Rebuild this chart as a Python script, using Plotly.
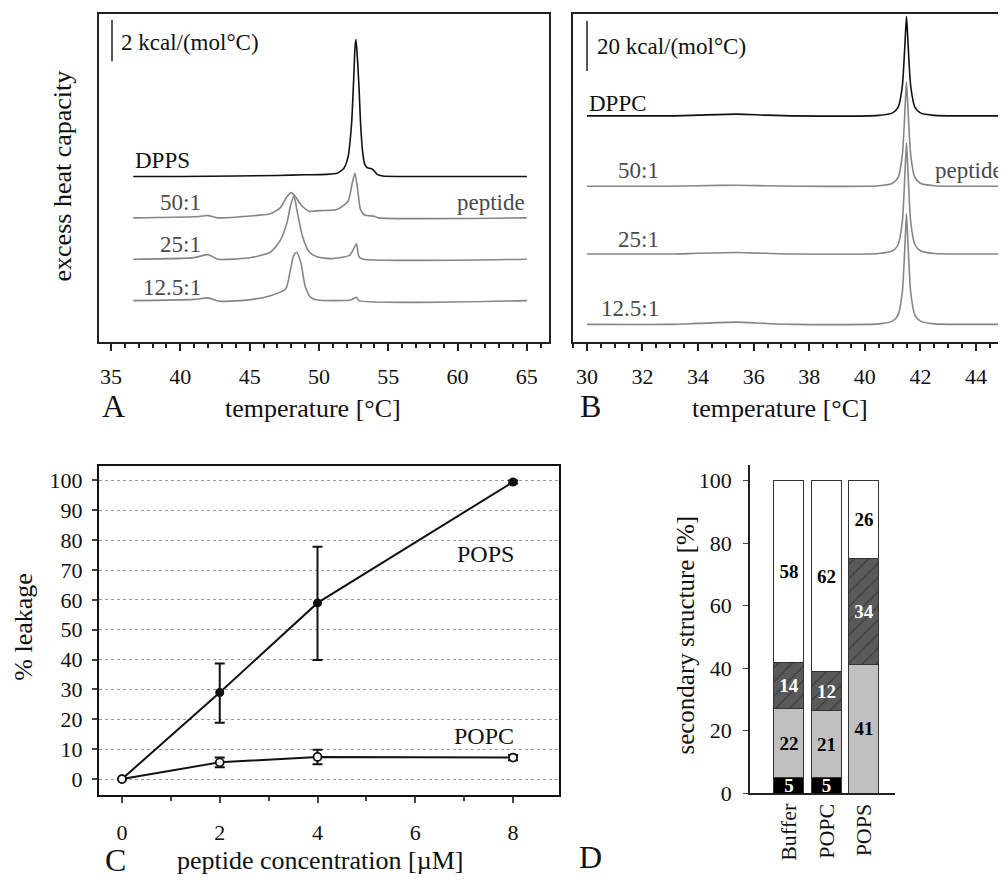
import plotly.graph_objects as go

W, H = 1006, 888
PAD = 8  # page body margin of the html page
FW, FH = W - PAD, H - PAD
SERIF = "Liberation Serif, Times New Roman, serif"
BLACK = "#111111"
GRAY = "#858585"
LABEL_GRAY = "#4a4a4a"

# ---------------- panel A : DSC of DPPS (T in C, excess cp in kcal/(mol C) above baseline)
dpps_t = [36.6, 40, 44, 47, 49, 50.5, 51.3, 51.8, 52.1, 52.35, 52.5, 52.6, 52.67, 52.75, 52.9, 53.0,
          53.15, 53.3, 53.5, 53.75, 53.95, 54.2, 54.6, 56, 65]
dpps_cp = [0, 0, 0.02, 0.05, 0.08, 0.1, 0.15, 0.4, 0.95, 2.5, 4.6, 6.2, 6.62, 6.0, 4.2, 2.6,
           1.2, 0.6, 0.42, 0.38, 0.3, 0.1, 0.02, 0, 0]

a50_t = [36.6, 41.0, 42.0, 42.7, 44.3, 45.5, 46.5, 47.2, 47.7, 48.0, 48.3, 48.7, 49.3, 50.1, 51.3,
         52.1, 52.4, 52.6, 52.8, 53.0, 53.3, 54.0, 54.3, 65]
a50_cp = [0, 0.05, 0.11, 0, 0.05, 0.12, 0.2, 0.48, 1.03, 1.22, 1.03, 0.63, 0.32, 0.35, 0.4,
          0.8, 1.67, 2.17, 1.33, 0.4, 0.14, 0.08, 0, 0]

a25_t = [36.6, 41.0, 42.0, 42.7, 45.1, 46.5, 47.2, 47.7, 47.95, 48.2, 48.4, 48.8, 49.3, 49.9, 50.9,
         52.2, 52.5, 52.7, 52.9, 53.2, 65]
a25_cp = [0, 0.08, 0.22, 0, 0.08, 0.35, 0.9, 1.78, 2.6, 3.05, 2.41, 1.14, 0.35, 0.11, 0.03,
          0.19, 0.5, 0.75, 0.11, 0, 0]

a12_t = [36.6, 41.0, 42.0, 42.8, 45.1, 46.5, 47.6, 47.9, 48.2, 48.4, 48.7, 49.0, 49.4, 49.9, 52.3,
         52.7, 52.9, 65]
a12_cp = [0, 0.06, 0.13, -0.03, 0.05, 0.24, 0.56, 1.35, 2.22, 2.33, 1.83, 0.71, 0.16, 0.03, 0.03,
          0.16, 0, 0]

a_names = ["DPPS", "50:1", "25:1", "12.5:1"]
a_offsets = [8, 6, 4, 2]

# ---------------- panel B : DSC of DPPC
dppc_t = [30, 33, 34, 35.4, 36.4, 37.5, 40.5, 41.0, 41.2, 41.35, 41.45, 41.5, 41.55, 41.65, 41.8,
          42.0, 42.5, 43.5, 45.5]
dppc_cp = [0, 0, 0.3, 0.7, 0.3, 0, 0.2, 1.2, 3.5, 12, 30, 39.6, 30, 12, 3.5, 1.2, 0.2, 0, 0]
b50_cp = [0, 0, 0.2, 0.4, 0.2, 0, 0.2, 1.2, 3.5, 12.5, 31.5, 41.6, 31.5, 12.5, 3.5, 1.2, 0.2, 0, 0]
b25_cp = [0, 0, 0.3, 0.6, 0.3, 0, 0.2, 1.3, 3.8, 13, 33.5, 44.3, 33.5, 13, 3.8, 1.3, 0.2, 0, 0]
b12_cp = [0, 0, 0.4, 0.9, 0.4, 0, 0.2, 1.3, 3.8, 13, 33, 44.0, 33, 13, 3.8, 1.3, 0.2, 0, 0]
b_names = ["DPPC", "50:1", "25:1", "12.5:1"]
b_offsets = [90, 62, 35, 7]

# ---------------- panel C : leakage
conc = [0, 2, 4, 8]
pops_leak = [0, 29, 59, 99.5]
pops_err_plus = [0, 9.7, 18.8, 0.5]
pops_err_minus = [0, 10.1, 19.1, 0.5]
popc_leak = [0, 5.6, 7.4, 7.2]
popc_err = [0, 1.6, 2.4, 0.9]

# ---------------- panel D : secondary structure
samples = ["Buffer", "POPC", "POPS"]
seg_black = [5, 5, 0]
seg_light = [22, 21.5, 41.3]
seg_hatch = [14.7, 12.3, 33.7]
seg_white = [58.3, 61.2, 25]
txt_black = ["5", "5", ""]
txt_light = ["22", "21", "41"]
txt_hatch = ["14", "12", "34"]
txt_white = ["58", "62", "26"]


def px(x):
    return (x - PAD) / FW


def py(y):
    return 1 - (y - PAD) / FH


fig = go.Figure()

a_series = [(dpps_t, dpps_cp), (a50_t, a50_cp), (a25_t, a25_cp), (a12_t, a12_cp)]
for i, (t, cp) in enumerate(a_series):
    fig.add_trace(go.Scatter(x=t, y=[v + a_offsets[i] for v in cp], mode="lines",
                             line=dict(color=BLACK if i == 0 else GRAY, width=1.6,
                                       shape="spline", smoothing=0.6),
                             xaxis="x", yaxis="y", showlegend=False))

b_series = [dppc_cp, b50_cp, b25_cp, b12_cp]
for i in [1, 2, 3, 0]:
    fig.add_trace(go.Scatter(x=dppc_t, y=[v + b_offsets[i] for v in b_series[i]], mode="lines",
                             line=dict(color=BLACK if i == 0 else GRAY, width=1.6,
                                       shape="spline", smoothing=0.6),
                             xaxis="x2", yaxis="y2", showlegend=False))

fig.add_trace(go.Scatter(x=conc, y=pops_leak, mode="lines+markers",
                         line=dict(color=BLACK, width=2),
                         marker=dict(color=BLACK, size=9),
                         error_y=dict(type="data", array=pops_err_plus, arrayminus=pops_err_minus,
                                      color=BLACK, thickness=2, width=5),
                         xaxis="x3", yaxis="y3", showlegend=False))
fig.add_trace(go.Scatter(x=conc, y=popc_leak, mode="lines+markers",
                         line=dict(color=BLACK, width=2),
                         marker=dict(color="white", size=8, line=dict(color=BLACK, width=1.8)),
                         error_y=dict(type="data", array=popc_err, color=BLACK, thickness=2, width=5),
                         xaxis="x3", yaxis="y3", showlegend=False))

seg_styles = [
    (seg_black, txt_black, "#000000", "white", None),
    (seg_light, txt_light, "#c0c0c0", "black", None),
    (seg_hatch, txt_hatch, "#5a5a5a", "white", "/"),
    (seg_white, txt_white, "#ffffff", "black", None),
]
for vals, txt, col, tcol, pat in seg_styles:
    marker = dict(color=col, line=dict(color="#333333", width=1))
    if pat:
        marker["pattern"] = dict(shape=pat, fgcolor="#1a1a1a", bgcolor=col, size=10, solidity=0.12)
    fig.add_trace(go.Bar(x=samples, y=vals, text=txt, textposition="inside",
                         insidetextanchor="middle", constraintext="none", textangle=0,
                         textfont=dict(family=SERIF, size=19, color=tcol, weight="bold"),
                         marker=marker, xaxis="x4", yaxis="y4", showlegend=False))

tickfont = dict(family=SERIF, size=22, color="#111")
line_col = "#222222"

fig.update_layout(
    width=FW, height=FH, margin=dict(l=0, r=0, t=0, b=0),
    paper_bgcolor="white", plot_bgcolor="white",
    barmode="stack", bargap=0.2,
    font=dict(family=SERIF, color="#111"),
    xaxis=dict(domain=[px(99), px(549)], range=[34.13, 66.6], anchor="y", showline=True, mirror=True,
               linecolor=line_col, linewidth=1.5, ticks="outside", ticklen=7, tickwidth=1.5,
               tickcolor=line_col, dtick=5, tick0=35, tickfont=tickfont, showgrid=False,
               ticklabelstandoff=7, zeroline=False,
               minor=dict(ticks="outside", ticklen=4, dtick=1, tickcolor=line_col)),
    yaxis=dict(domain=[py(347), py(14)], range=[0, 333 / 21], anchor="x", showline=True, mirror=True,
               linecolor=line_col, linewidth=1.5, showticklabels=False, ticks="",
               showgrid=False, zeroline=False),
    xaxis2=dict(domain=[px(573), 1.0], range=[29.5, 45.08], anchor="y2", showline=True, mirror=True,
                linecolor=line_col, linewidth=1.5, ticks="outside", ticklen=7, tickwidth=1.5,
                tickcolor=line_col, dtick=2, tick0=30, tickfont=tickfont, showgrid=False,
                ticklabelstandoff=7, zeroline=False,
                minor=dict(ticks="outside", ticklen=4, dtick=0.5, tickcolor=line_col)),
    yaxis2=dict(domain=[py(347), py(14)], range=[0, 333 / 2.55], anchor="x2", showline=True,
                linecolor=line_col, linewidth=1.5, showticklabels=False, ticks="",
                showgrid=False, zeroline=False),
    xaxis3=dict(domain=[px(99), px(559)], range=[-0.47, 8.94], anchor="y3", showline=True, mirror=True,
                linecolor=BLACK, linewidth=2, ticks="outside", ticklen=6, tickwidth=1.5,
                dtick=2, tick0=0, tickfont=tickfont, showgrid=False, zeroline=False,
                ticklabelstandoff=10, minor=dict(ticks="outside", ticklen=4, dtick=1)),
    yaxis3=dict(domain=[py(807), py(473)], range=[-5.4, 104.8], anchor="x3", showline=True, mirror=True,
                linecolor=BLACK, linewidth=2, ticks="outside", ticklen=5, tickwidth=1.5,
                dtick=10, tick0=0, tickfont=tickfont, showgrid=True, gridcolor="#9a9a9a",
                griddash="dot", gridwidth=1, zeroline=False, ticklabelstandoff=5),
    xaxis4=dict(domain=[px(750), px(895)], range=[-1.04, 2.83], anchor="y4", showline=True,
                linecolor=line_col, linewidth=1.5, ticks="", tickangle=-90, tickfont=tickfont,
                showgrid=False, zeroline=False),
    yaxis4=dict(domain=[py(805), py(472)], range=[0, 105], anchor="x4", showline=True,
                linecolor=line_col, linewidth=1.5, ticks="outside", ticklen=5, dtick=20,
                tickfont=tickfont, showgrid=False, zeroline=False, ticklabelstandoff=7),
)

annotations = []


def ann(text, x, y, size, xanchor="center", color="#111", angle=0):
    annotations.append(dict(text=text, x=px(x), y=py(y), xref="paper", yref="paper",
                            xanchor=xanchor, yanchor="middle", showarrow=False, textangle=angle,
                            font=dict(family=SERIF, size=size, color=color)))


# panel A labels
ann("2 kcal/(mol°C)", 119, 43, 23, "left")
ann("DPPS", 133, 163, 23, "left")
ann("50:1", 180, 205, 23, "center", LABEL_GRAY)
ann("25:1", 180, 248, 23, "center", LABEL_GRAY)
ann("12.5:1", 172, 292, 23, "center", LABEL_GRAY)
ann("peptide", 527, 205, 23, "right", LABEL_GRAY)
ann("excess heat capacity", 62, 179, 26, angle=-90)
ann("A", 113, 412, 32)
ann("temperature [°C]", 313, 414, 26)

# panel B labels
ann("20 kcal/(mol°C)", 595, 47, 23, "left")
ann("DPPC", 587, 105, 23, "left")
ann("50:1", 638, 173, 23, "center", LABEL_GRAY)
ann("25:1", 638, 243, 23, "center", LABEL_GRAY)
ann("12.5:1", 630, 313, 23, "center", LABEL_GRAY)
ann("peptide", 1005, 173, 23, "right", LABEL_GRAY)
ann("B", 590, 412, 32)
ann("temperature [°C]", 780, 414, 26)

# panel C labels
ann("POPS", 516, 562, 24, "right")
ann("POPC", 516, 747, 24, "right")
ann("% leakage", 24, 636, 26, angle=-90)
ann("C", 115, 873, 32)
ann("peptide concentration [µM]", 320, 873, 26)

# panel D labels
ann("secondary structure [%]", 686, 645, 25, angle=-90)
ann("D", 590, 870, 32)

fig.update_layout(annotations=annotations)

# scale bars
fig.add_shape(type="line", xref="paper", yref="paper", x0=px(112), x1=px(112), y0=py(20), y1=py(62),
              line=dict(color="#222", width=1.5))
fig.add_shape(type="line", xref="paper", yref="paper", x0=px(587), x1=px(587), y0=py(21), y1=py(72),
              line=dict(color="#222", width=1.5))

fig.write_html("out.html")
